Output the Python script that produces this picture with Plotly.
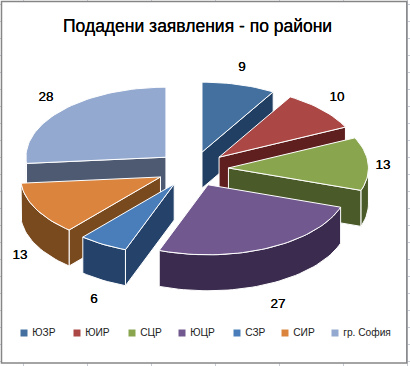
import math
import plotly.graph_objects as go

# Data
categories = ["ЮЗР", "ЮИР", "СЦР", "ЮЦР", "СЗР", "СИР", "гр. София"]
values = [9, 10, 13, 27, 6, 13, 28]
title_text = "Подадени заявления - по райони"

# Style
top_colors = ["#44709f", "#ab4845", "#89a54e", "#71588f", "#4a7ebb", "#db843d", "#93a9cf"]
wall_colors = ["#213f63", "#5f1f1f", "#4a5a28", "#3b2b4f", "#24426a", "#7a4a1f", "#4d5a72"]
draw_order = [6, 0, 1, 2, 5, 4, 3]

# Layout constants (pixels of the 410x366 page)
W, H = 410, 366
CX, CY, RX, RY, PULL, DEPTH = 192.5, 169.0, 140.0, 70.0, 36.0, 36.0
label_xy = [(242, 68), (337, 98), (383, 166), (278, 305), (94, 300), (20, 256), (46, 98)]
legend_x = [24, 77, 132, 182, 237, 285, 335]
LEGEND_Y = 333


def pt(cx, cy, deg):
    a = math.radians(deg)
    return cx + RX * math.sin(a), cy - RY * math.cos(a)


fig = go.Figure()


def poly(points, color):
    fig.add_trace(go.Scatter(
        x=[p[0] for p in points] + [points[0][0]],
        y=[p[1] for p in points] + [points[0][1]],
        mode="lines", fill="toself", fillcolor=color,
        line=dict(color="white", width=1),
        hoverinfo="skip", showlegend=False))


total = sum(values)
angles = [0.0]
for v in values:
    angles.append(angles[-1] + 360.0 * v / total)

for i in draw_order:
    a0, a1 = angles[i], angles[i + 1]
    mid = math.radians((a0 + a1) / 2)
    cx = CX + PULL * math.sin(mid)
    cy = CY - PULL * 68.0 / RX * math.cos(mid)
    n = max(2, int((a1 - a0) / 2))
    arc_angles = [a0 + (a1 - a0) * k / n for k in range(n + 1)]
    arc = [pt(cx, cy, a) for a in arc_angles]
    apex = (cx, cy)
    down = lambda p: (p[0], p[1] + DEPTH)
    walls = []
    if math.sin(math.radians(a0)) < -1e-6:
        walls.append([apex, arc[0], down(arc[0]), down(apex)])
    if math.sin(math.radians(a1)) > 1e-6:
        walls.append([arc[-1], apex, down(apex), down(arc[-1])])
    lo, hi = max(a0, 90.0), min(a1, 270.0)
    if hi > lo:
        m = max(2, int((hi - lo) / 2))
        front = [pt(cx, cy, lo + (hi - lo) * k / m) for k in range(m + 1)]
        walls.append(front + [down(p) for p in reversed(front)])
    walls.sort(key=lambda w: sum(p[1] for p in w) / len(w))
    for w in walls:
        poly(w, wall_colors[i])
    poly([apex] + arc, top_colors[i])

# Legend drawn with the same scale as the pie
fig.add_trace(go.Scatter(
    x=legend_x, y=[LEGEND_Y] * len(categories),
    mode="markers+text",
    marker=dict(symbol="square", size=7, color=top_colors),
    text=["\u00a0" + c for c in categories], textposition="middle right",
    textfont=dict(family="Liberation Sans", size=10.2, color="#222222"),
    hoverinfo="skip", showlegend=False))

# Data labels
fig.add_trace(go.Scatter(
    x=[p[0] for p in label_xy], y=[p[1] for p in label_xy],
    mode="text", text=[str(v) for v in values],
    textposition="middle center",
    textfont=dict(family="Liberation Sans", size=13.5, color="black",
                  shadow="0 0 0.4px #000"),
    hoverinfo="skip", showlegend=False))

fig.add_shape(type="rect", x0=1.5, y0=1.5, x1=406.8, y1=363,
              line=dict(color="#868686", width=1.5), fillcolor="white", layer="between")

axis_common = dict(showticklabels=False, showline=False, zeroline=False, ticks="",
                   showgrid=True, gridcolor="#c8ccd4", gridwidth=1, fixedrange=True)
fig.update_layout(
    width=W, height=H, margin=dict(l=0, r=0, t=0, b=0),
    paper_bgcolor="white", plot_bgcolor="white", showlegend=False,
    xaxis=dict(range=[0, W], tick0=23, dtick=64, **axis_common),
    yaxis=dict(range=[H, 0], tick0=4, dtick=17, **axis_common),
    annotations=[dict(x=197, y=26, xref="x", yref="y", text=title_text, showarrow=False,
                      font=dict(family="Liberation Sans", size=17.5, color="black",
                                shadow="0 0 0.3px #000"))],
)
fig.write_html("out.html", config={"displayModeBar": False},
               post_script="document.body.style.margin='0';document.body.style.overflow='hidden';")
